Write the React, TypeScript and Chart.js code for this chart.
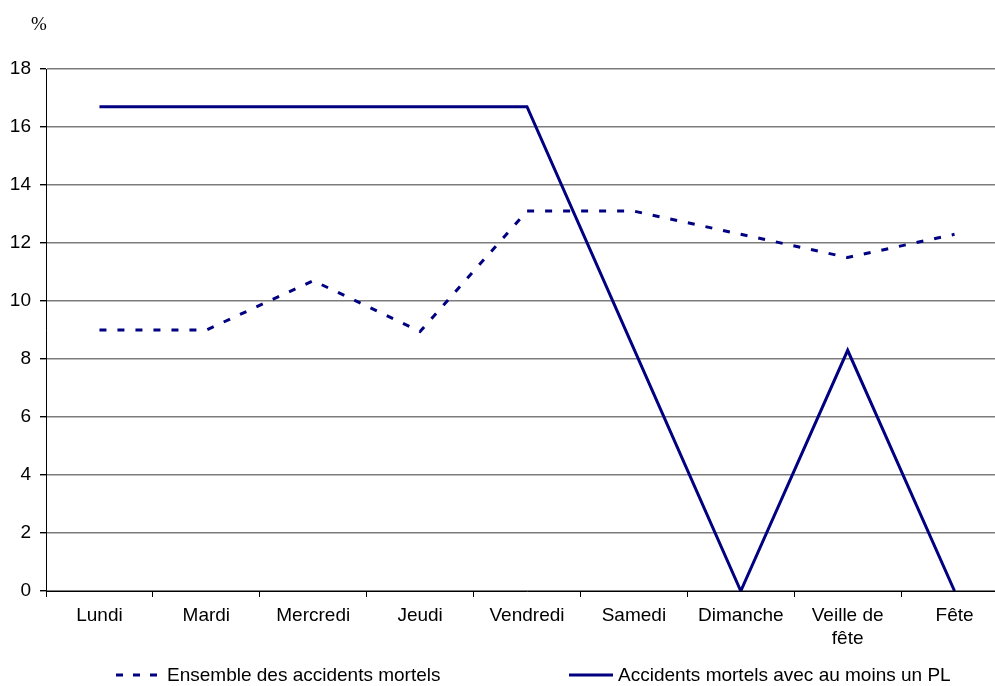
import React, { useEffect, useRef } from 'react';
import { Chart, registerables } from 'chart.js';

Chart.register(...registerables);

const categories: (string | string[])[] = [
  'Lundi',
  'Mardi',
  'Mercredi',
  'Jeudi',
  'Vendredi',
  'Samedi',
  'Dimanche',
  ['Veille de', 'fête'],
  'Fête',
];

const ensembleLabel = 'Ensemble des accidents mortels';
const ensembleValues = [9.0, 9.0, 10.7, 8.95, 13.1, 13.1, 12.3, 11.5, 12.3];

const plLabel = 'Accidents mortels avec au moins un PL';
const plValues = [16.7, 16.7, 16.7, 16.7, 16.7, 8.35, 0, 8.3, 0];

const yMin = 0;
const yMax = 18;
const yStep = 2;
const unitLabel = '%';

const SANS = '"Liberation Sans", Arial, Helvetica, sans-serif';
const SERIF = '"Liberation Serif", "Times New Roman", serif';
const NAVY = '#000080';

export default function App() {
  const ref = useRef<HTMLCanvasElement>(null);

  useEffect(() => {
    if (!ref.current) return;
    const chart = new Chart(ref.current, {
      type: 'line',
      data: {
        labels: categories as any,
        datasets: [
          {
            label: ensembleLabel,
            data: ensembleValues,
            borderColor: NAVY,
            backgroundColor: NAVY,
            borderWidth: 3,
            borderDash: [7, 11],
            pointRadius: 0,
            tension: 0,
            fill: false,
          },
          {
            label: plLabel,
            data: plValues,
            borderColor: NAVY,
            backgroundColor: NAVY,
            borderWidth: 3,
            pointRadius: 0,
            tension: 0,
            fill: false,
          },
        ],
      },
      options: {
        responsive: false,
        animation: false,
        layout: { padding: { left: 0, right: 2, top: 69, bottom: 15 } },
        plugins: {
          legend: { display: false },
          tooltip: { enabled: false },
          title: { display: false },
        },
        scales: {
          x: {
            type: 'category',
            offset: true,
            grid: {
              offset: true,
              drawOnChartArea: false,
              drawTicks: true,
              tickLength: 6,
              color: '#000',
            },
            border: { display: true, color: '#000', width: 1 },
            ticks: {
              font: { family: SANS, size: 19, lineHeight: 1.18 },
              color: '#000',
              padding: 8,
              maxRotation: 0,
              minRotation: 0,
              autoSkip: false,
            },
            afterFit: (s: any) => {
              s.height = 80;
            },
          },
          y: {
            min: yMin,
            max: yMax,
            ticks: {
              stepSize: yStep,
              font: { family: SANS, size: 19 },
              color: '#000',
              padding: 9,
            },
            grid: {
              color: '#7c7c7c',
              tickColor: '#000',
              tickLength: 6,
              lineWidth: 1.4,
            },
            border: { display: true, color: '#000', width: 1 },
            afterFit: (s: any) => {
              s.width = 46;
            },
          },
        },
      },
    });
    return () => chart.destroy();
  }, []);

  return (
    <div
      style={{
        position: 'fixed',
        left: 0,
        top: 0,
        width: 995,
        height: 686,
        overflow: 'hidden',
        background: '#fff',
      }}
    >
      <canvas
        ref={ref}
        width={1010}
        height={686}
        style={{ position: 'absolute', left: 0, top: 0, width: 1010, height: 686 }}
      />
      <div
        style={{
          position: 'absolute',
          left: 31,
          top: 13,
          font: `19px ${SERIF}`,
          lineHeight: '22px',
          color: '#000',
        }}
      >
        {unitLabel}
      </div>
      <div
        style={{
          position: 'absolute',
          left: 116,
          top: 664,
          height: 22,
          display: 'flex',
          alignItems: 'center',
          font: `19px ${SANS}`,
          lineHeight: '22px',
          color: '#000',
          whiteSpace: 'nowrap',
        }}
      >
        <svg width={42} height={6} style={{ marginRight: 9 }}>
          <line x1={0} y1={3} x2={42} y2={3} stroke={NAVY} strokeWidth={3} strokeDasharray="7 10" />
        </svg>
        <span>{ensembleLabel}</span>
      </div>
      <div
        style={{
          position: 'absolute',
          left: 569,
          top: 664,
          height: 22,
          display: 'flex',
          alignItems: 'center',
          font: `19px ${SANS}`,
          lineHeight: '22px',
          color: '#000',
          whiteSpace: 'nowrap',
        }}
      >
        <svg width={44} height={6} style={{ marginRight: 5 }}>
          <line x1={0} y1={3} x2={44} y2={3} stroke={NAVY} strokeWidth={3} />
        </svg>
        <span>{plLabel}</span>
      </div>
    </div>
  );
}
